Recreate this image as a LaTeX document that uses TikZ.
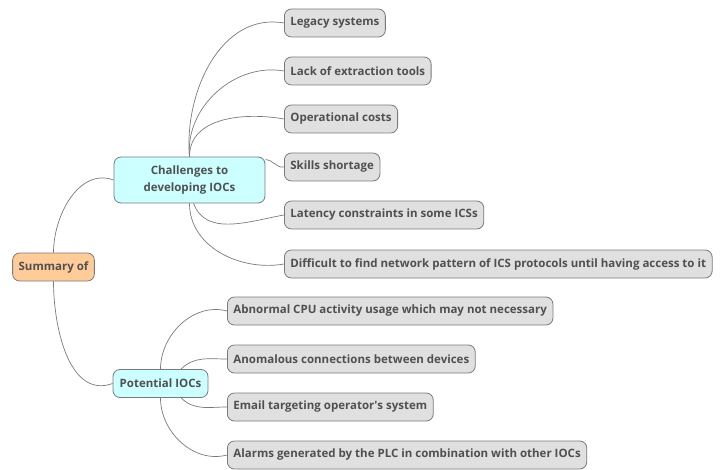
\documentclass[tikz,border=0pt]{standalone}
\usepackage{fontspec}
\setmainfont{Open Sans}
\usetikzlibrary{positioning}
\definecolor{txtgray}{HTML}{505050}
\definecolor{linegray}{HTML}{7A7A7A}
\definecolor{rootfill}{HTML}{FFCC99}
\definecolor{midfill}{HTML}{CCFFFF}
\definecolor{leaffill}{HTML}{E0E0E0}

\begin{document}
\begin{tikzpicture}[x=1pt,y=1pt,font=\bfseries\fontsize{11.5}{17}\selectfont,text=txtgray]
    \tikzset{topic/.style={draw=linegray,line width=0.8pt,rectangle,rounded corners=7pt,minimum height=28pt,inner xsep=6pt}}
    \tikzset{rootbox/.style={topic,fill=rootfill}}
    \tikzset{midbox/.style={topic,fill=midfill}}
    \tikzset{leafbox/.style={topic,fill=leaffill,anchor=west}}
    \tikzset{branch/.style={draw=linegray,line width=0.7pt}}
    \useasboundingbox (0,0) rectangle (722,-470);
    \node[rootbox,minimum width=81pt] (sum) at (53.5,-267) {Summary of};
    \node[midbox,minimum width=151pt,minimum height=46pt,align=center] (chal) at (189.5,-180) {Challenges to\\developing IOCs};
    \node[midbox,minimum width=95pt] (pot) at (160.5,-383.5) {Potential IOCs};
    % challenges
    \node[leafbox] (legacy) at (284,-23) {Legacy systems};
    \node[leafbox] (lack) at (284,-71) {Lack of extraction tools};
    \node[leafbox] (ops) at (284,-119) {Operational costs};
    \node[leafbox] (skills) at (284,-167) {Skills shortage};
    \node[leafbox] (latency) at (284,-215) {Latency constraints in some ICSs};
    \node[leafbox] (diff) at (284,-264) {Difficult to find network pattern of ICS protocols until having access to it};
    % potential
    \node[leafbox] (cpu) at (227,-311) {Abnormal CPU activity usage which may not necessary};
    \node[leafbox] (conn) at (227,-359) {Anomalous connections between devices};
    \node[leafbox] (email) at (227,-407) {Email targeting operator\textquotesingle s system};
    \node[leafbox] (alarm) at (227,-455) {Alarms generated by the PLC in combination with other IOCs};
    \path[branch]
    (sum.north) edge [out=90,in=160] (chal.west)
    (sum.south) edge [out=-90,in=200] (pot.west)
    (chal.north) edge [out=95,in=170] (legacy.west)
    (chal.north) edge [out=95,in=170] (lack.west)
    (chal.north) edge [out=90,in=170] (ops.west)
    (chal.15) edge [out=0,in=190] (skills.west)
    (chal.-80) edge [out=-70,in=190] (latency.west)
    (chal.south) edge [out=-90,in=190] (diff.west)
    (pot.north) edge [out=90,in=165] (cpu.west)
    (pot.35) edge [out=45,in=180] (conn.west)
    (pot.-35) edge [out=-45,in=180] (email.west)
    (pot.south) edge [out=-90,in=195] (alarm.west)
    ;
\end{tikzpicture}
\end{document}
